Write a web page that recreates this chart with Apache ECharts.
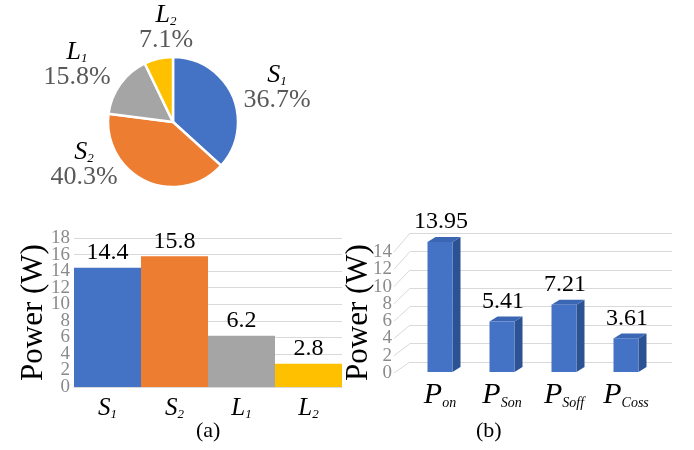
<!DOCTYPE html>
<html><head><meta charset="utf-8">
<script src="https://cdn.jsdelivr.net/npm/echarts@6/dist/echarts.min.js"></script>
<style>html,body{margin:0;padding:0;background:#fff}#c{width:694px;height:450px}</style>
</head><body><div id="c"></div>
<script>
// ---- data ----
const namesA = ['S1', 'S2', 'L1', 'L2'];
const powerA = [14.4, 15.8, 6.2, 2.8];
const namesB = ['Pon', 'PSon', 'PSoff', 'PCoss'];
const powerB = [13.95, 5.41, 7.21, 3.61];
const ticksA = [0, 2, 4, 6, 8, 10, 12, 14, 16, 18];
const ticksB = [0, 2, 4, 6, 8, 10, 12, 14];

// ---- styles / layout ----
const FONT = 'Liberation Serif';
const sliceColors = ['#4472C4', '#ED7D31', '#A5A5A5', '#FFC000'];
const pieLabelPos = [[277, 88], [84, 165], [77, 65], [166, 28]];
const gridLine = '#d9d9d9';
const tickColor = '#8a8a8a';

const total = powerA.reduce((a, b) => a + b, 0);
function sub(name, st) { return '{' + st + 'm|' + name[0] + '}{' + st + 's|' + name.slice(1) + '}'; }

const chart = echarts.init(document.getElementById('c'));

const option = {
  backgroundColor: '#fff',
  animation: false,
  grid: [
    {left: 74, right: 352, top: 238, bottom: 63},
    {left: 394, width: 10, top: 252, bottom: 77},
    {left: 410, right: 22, top: 233, bottom: 88},
    {left: 409, right: 37, top: 223, bottom: 78}
  ],
  xAxis: [
    {gridIndex: 0, type: 'category', data: namesA,
      axisLine: {lineStyle: {color: gridLine}}, axisTick: {show: false},
      axisLabel: {margin: 8, interval: 0, hideOverlap: false, fontFamily: FONT, formatter: v => sub(v, 'a'),
        rich: {
          am: {fontFamily: FONT, fontStyle: 'italic', fontSize: 25, color: '#000', lineHeight: 26},
          as: {fontFamily: FONT, fontStyle: 'italic', fontSize: 13, color: '#000', lineHeight: 14, verticalAlign: 'bottom'}
        }}},
    {gridIndex: 1, type: 'value', show: false},
    {gridIndex: 2, type: 'value', show: false},
    {gridIndex: 3, type: 'category', data: namesB,
      axisLine: {show: false}, axisTick: {show: false},
      axisLabel: {margin: 8, interval: 0, hideOverlap: false, fontFamily: FONT, formatter: v => sub(v, 'b'),
        rich: {
          bm: {fontFamily: FONT, fontStyle: 'italic', fontSize: 30, color: '#000', lineHeight: 30},
          bs: {fontFamily: FONT, fontStyle: 'italic', fontSize: 14, color: '#000', lineHeight: 12, verticalAlign: 'bottom'}
        }}}
  ],
  yAxis: [
    {gridIndex: 0, type: 'value', min: ticksA[0], max: ticksA[ticksA.length - 1], interval: ticksA[1] - ticksA[0],
      name: 'Power (W)', nameLocation: 'middle', nameRotate: 90, nameGap: 25,
      nameTextStyle: {fontFamily: FONT, fontSize: 31, color: '#000'},
      axisLine: {show: false}, axisTick: {show: false}, axisLabel: {show: false},
      splitLine: {lineStyle: {color: gridLine}}},
    {gridIndex: 1, type: 'value', min: ticksB[0], max: ticksB[ticksB.length - 1], interval: ticksB[1] - ticksB[0],
      name: 'Power (W)', nameLocation: 'middle', nameRotate: 90, nameGap: 20,
      nameTextStyle: {fontFamily: FONT, fontSize: 31, color: '#000'},
      axisLine: {show: false}, axisTick: {show: false}, axisLabel: {show: false},
      splitLine: {show: false}},
    {gridIndex: 2, type: 'value', min: ticksB[0], max: ticksB[ticksB.length - 1], interval: ticksB[1] - ticksB[0],
      axisLine: {show: false}, axisTick: {show: false}, axisLabel: {show: false},
      splitLine: {lineStyle: {color: gridLine}}},
    {gridIndex: 3, type: 'value', min: 0, max: 16, show: false, splitLine: {show: false}}
  ],
  series: [
    {type: 'pie', center: [173, 122], radius: 65, startAngle: 90, clockwise: true,
      itemStyle: {borderColor: '#fff', borderWidth: 2.5},
      data: namesA.map((n, i) => ({name: n, value: powerA[i], itemStyle: {color: sliceColors[i]}})),
      labelLine: {show: false},
      label: {position: 'outside', overflow: 'none', width: 120, fontFamily: FONT,
        formatter: p => sub(p.name, 'p') + '\n{pv|' + (p.value / total * 100).toFixed(1) + '%}',
        rich: {
          pm: {fontFamily: FONT, fontStyle: 'italic', fontSize: 26, color: '#000', lineHeight: 25, align: 'center'},
          ps: {fontFamily: FONT, fontStyle: 'italic', fontSize: 13, color: '#000', lineHeight: 12, verticalAlign: 'bottom', align: 'center'},
          pv: {fontFamily: FONT, fontSize: 26, color: '#595959', lineHeight: 25, align: 'center'}
        }},
      labelLayout: p => ({x: pieLabelPos[p.dataIndex][0], y: pieLabelPos[p.dataIndex][1], align: 'center', verticalAlign: 'middle'})
    },
    {type: 'bar', xAxisIndex: 0, yAxisIndex: 0, barCategoryGap: '0%',
      data: powerA.map((v, i) => ({value: v, itemStyle: {color: sliceColors[i]}})),
      label: {show: true, position: 'top', distance: 3, color: '#000', fontFamily: FONT, fontSize: 24}},
    {type: 'custom', xAxisIndex: 3, yAxisIndex: 3,
      data: powerB.map((v, i) => [i, v]),
      encode: {x: 0, y: 1},
      renderItem: function (params, api) {
        const i = api.value(0), v = api.value(1);
        const t = api.coord([i, v]);
        const b = api.coord([i, 0]);
        const w = 25, dx = 8, dy = 5;
        const xl = t[0] - w / 2, xr = t[0] + w / 2, yt = t[1], yb = b[1];
        return {type: 'group', children: [
          {type: 'polygon', shape: {points: [[xr, yt], [xr + dx, yt - dy], [xr + dx, yb - dy], [xr, yb]]}, style: {fill: '#2C5294'}},
          {type: 'polygon', shape: {points: [[xl, yt], [xl + dx, yt - dy], [xr + dx, yt - dy], [xr, yt]]}, style: {fill: '#3A66B3'}},
          {type: 'rect', shape: {x: xl, y: yt, width: w, height: yb - yt}, style: {fill: '#4472C4'}},
          {type: 'text', x: t[0] + 1, y: yt - dy - 3, style: {text: String(v), font: '24px ' + FONT, fill: '#000', align: 'center', verticalAlign: 'bottom'}}
        ]};
      }
    }
  ],
  graphic: [
    {type: 'text', left: 196, top: 420, style: {text: '(a)', font: '22px ' + FONT, fill: '#000'}},
    {type: 'text', left: 476, top: 420, style: {text: '(b)', font: '22px ' + FONT, fill: '#000'}}
  ]
};
chart.setOption(option);

// tick labels placed through the axes' own scales (all shown, as in the reference)
function tickTexts(ticks, yAxisIndex, leftX, margin) {
  return ticks.map(v => {
    const y = chart.convertToPixel({yAxisIndex: yAxisIndex}, v);
    return {type: 'text', x: leftX - margin, y: y, z: 5,
      style: {text: String(v), font: '19px ' + FONT, fill: tickColor, align: 'right', verticalAlign: 'middle'}};
  });
}
// left edge of grid (a): first category centre minus half a band
const c0 = chart.convertToPixel({xAxisIndex: 0}, 0);
const c1 = chart.convertToPixel({xAxisIndex: 0}, 1);
const leftA = c0 - (c1 - c0) / 2;
// left edge of the front axis of (b)
const leftB = chart.convertToPixel({gridIndex: 1}, [0, 0])[0];

// perspective connectors from the front (label) axis to the back wall gridlines
const diag = ticksB.map(v => {
  const p1 = chart.convertToPixel({yAxisIndex: 1}, v);
  const p2 = chart.convertToPixel({yAxisIndex: 2}, v);
  const x1 = chart.convertToPixel({gridIndex: 1}, [0, v])[0];
  const x2 = chart.convertToPixel({gridIndex: 2}, [0, v])[0];
  return {type: 'line', shape: {x1: x1, y1: p1, x2: x2, y2: p2}, style: {stroke: gridLine, lineWidth: 1}, z: 0};
});
chart.setOption({graphic: option.graphic.concat(diag, tickTexts(ticksA, 0, leftA, 4), tickTexts(ticksB, 1, leftB, 2))});
</script></body></html>
